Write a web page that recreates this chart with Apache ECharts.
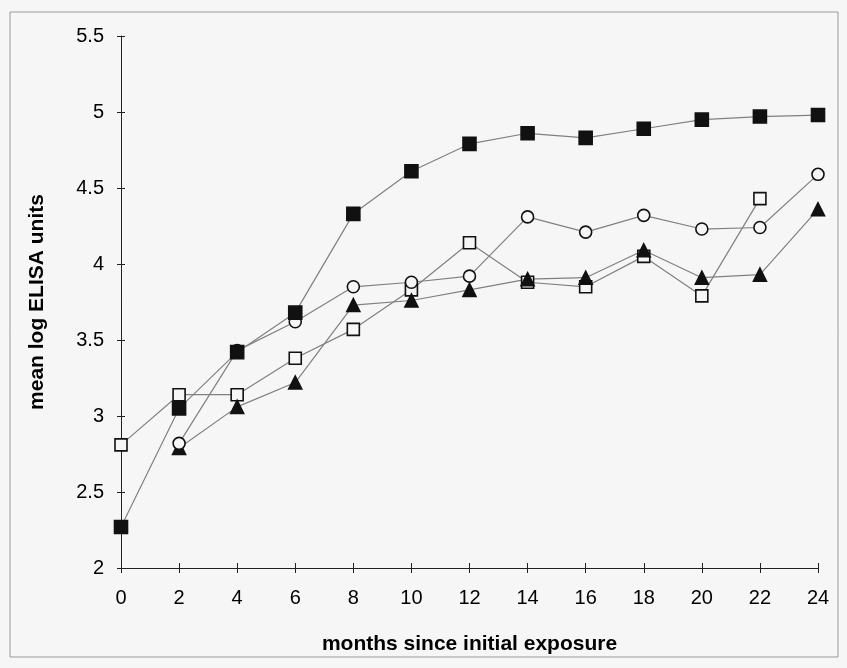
<!DOCTYPE html>
<html><head><meta charset="utf-8">
<script src="https://cdn.jsdelivr.net/npm/echarts@6/dist/echarts.min.js"></script>
<style>html,body{margin:0;padding:0;background:#f6f6f6}#c{width:847px;height:668px}</style>
</head><body><div id="c"></div>
<script>
var months = [0,2,4,6,8,10,12,14,16,18,20,22,24];
var filledSquare = [2.27,3.05,3.42,3.68,4.33,4.61,4.79,4.86,4.83,4.89,4.95,4.97,4.98];
var openCircle   = [null,2.82,3.43,3.62,3.85,3.88,3.92,4.31,4.21,4.32,4.23,4.24,4.59];
var openSquare   = [2.81,3.14,3.14,3.38,3.57,3.83,4.14,3.88,3.85,4.05,3.79,4.43,null];
var triangle     = [null,2.79,3.06,3.22,3.73,3.76,3.83,3.90,3.91,4.09,3.91,3.93,4.36];
var yTicks = {min:2, max:5.5, interval:0.5};
var xTicks = {min:0, max:24, interval:2};

function pairs(vals){ var out=[]; for(var i=0;i<months.length;i++){ if(vals[i]!=null) out.push([months[i],vals[i]]); } return out; }
var font = 'Liberation Sans, Arial, sans-serif';
var lineStyle = {color:'#808080', width:1.2};
function mk(name, vals, symbol, size, fill){
  return {name:name, type:'line', data:pairs(vals), symbol:symbol, symbolSize:size,
    lineStyle:lineStyle, itemStyle:{color:fill, borderColor:'#111', borderWidth:1.6},
    animation:false, z:3};
}
var chart = echarts.init(document.getElementById('c'));
chart.setOption({
  backgroundColor:'#f6f6f6',
  animation:false,
  graphic:[{type:'rect', shape:{x:10,y:12,width:828,height:645}, style:{fill:'none', stroke:'#9a9a9a', lineWidth:1}}],
  grid:{left:121, right:29, top:36, bottom:100},
  xAxis:[{type:'value', min:xTicks.min, max:xTicks.max, interval:xTicks.interval,
    name:'months since initial exposure', nameLocation:'middle', nameGap:66,
    nameTextStyle:{fontFamily:font, fontWeight:'bold', fontSize:21, color:'#000'},
    axisLine:{lineStyle:{color:'#222', width:1}},
    axisTick:{show:true, length:5, lineStyle:{color:'#222'}},
    axisLabel:{fontFamily:font, fontSize:20, color:'#000', margin:20},
    splitLine:{show:false}},
   {type:'value', min:xTicks.min, max:xTicks.max, interval:xTicks.interval, position:'bottom',
    axisLine:{show:false}, axisTick:{show:true, inside:true, length:5, lineStyle:{color:'#222'}},
    axisLabel:{show:false}, splitLine:{show:false}}],
  yAxis:[{type:'value', min:yTicks.min, max:yTicks.max, interval:yTicks.interval,
    name:'mean log ELISA units', nameLocation:'middle', nameGap:73, nameRotate:90,
    nameTextStyle:{fontFamily:font, fontWeight:'bold', fontSize:21, color:'#000'},
    axisLine:{show:true, lineStyle:{color:'#222', width:1}},
    axisTick:{show:true, length:4, lineStyle:{color:'#222'}},
    axisLabel:{fontFamily:font, fontSize:20, color:'#000', margin:17},
    splitLine:{show:false}},
   {type:'value', min:yTicks.min, max:yTicks.max, interval:yTicks.interval, position:'left',
    axisLine:{show:false}, axisTick:{show:true, inside:true, length:4, lineStyle:{color:'#222'}},
    axisLabel:{show:false}, splitLine:{show:false}}],
  series:[
    mk('open square', openSquare, 'rect', 12, '#f6f6f6'),
    mk('triangle', triangle, 'triangle', 13, '#111'),
    mk('open circle', openCircle, 'circle', 12, '#f6f6f6'),
    mk('filled square', filledSquare, 'rect', 13, '#111')
  ]
});
</script></body></html>
